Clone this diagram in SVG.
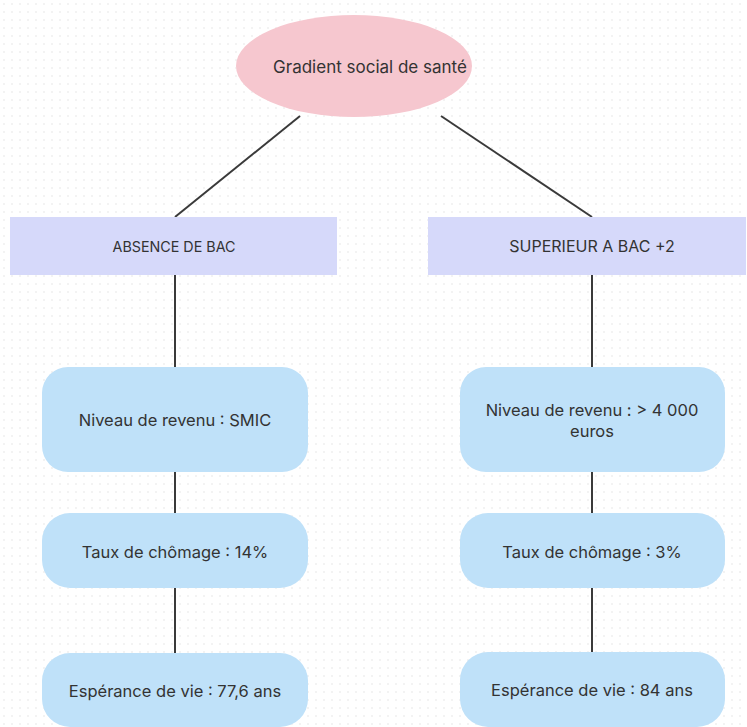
<svg xmlns="http://www.w3.org/2000/svg" width="747" height="727" viewBox="0 0 747 727">
<style>
text{font-family:"Inter","Liberation Sans",sans-serif;fill:#333;text-anchor:middle;dominant-baseline:central}
.t{font-size:16.5px}
.h{font-size:16px}
.box{fill:#BFE1F9}
.cat{fill:#D6D9FA}
.c{stroke:#3a3a3a;stroke-width:2;fill:none}
</style>
<defs>
<pattern id="dots" width="8" height="8" patternUnits="userSpaceOnUse">
<circle cx="4" cy="4" r="0.8" fill="#e3e3e3"/>
</pattern>
</defs>
<rect width="747" height="727" fill="#fff"/>
<rect width="747" height="727" fill="url(#dots)"/>
<g id="connectors">
<line class="c" x1="300" y1="116" x2="175" y2="217"/>
<line class="c" x1="441" y1="116" x2="592" y2="217"/>
<line class="c" x1="175" y1="275" x2="175" y2="367"/>
<line class="c" x1="592" y1="275" x2="592" y2="367"/>
<line class="c" x1="175" y1="472" x2="175" y2="513"/>
<line class="c" x1="592" y1="472" x2="592" y2="513"/>
<line class="c" x1="175" y1="588" x2="175" y2="653"/>
<line class="c" x1="592" y1="588" x2="592" y2="652"/>
</g>
<g id="root">
<ellipse cx="354" cy="66" rx="118" ry="51" fill="#F6C7CF"/>
<text class="t" x="370" y="67" style="font-size:17px">Gradient social de santé</text>
</g>
<g id="absence">
<rect class="cat" x="10" y="217" width="327" height="58"/>
<text class="h" x="174" y="246" style="font-size:14.3px">ABSENCE DE BAC</text>
</g>
<g id="superieur">
<rect class="cat" x="428" y="217" width="318" height="58"/>
<text class="h" x="592" y="246">SUPERIEUR A BAC +2</text>
</g>
<g id="revenu-l">
<rect class="box" x="42" y="367" width="266" height="105" rx="26"/>
<text class="t" x="175" y="420">Niveau de revenu : SMIC</text>
</g>
<g id="revenu-r">
<rect class="box" x="460" y="367" width="265" height="105" rx="26"/>
<text class="t" x="592" y="410">Niveau de revenu : &gt; 4 000</text>
<text class="t" x="592" y="431">euros</text>
</g>
<g id="chomage-l">
<rect class="box" x="42" y="513" width="266" height="75" rx="28"/>
<text class="t" x="175" y="552">Taux de chômage : 14%</text>
</g>
<g id="chomage-r">
<rect class="box" x="460" y="513" width="265" height="75" rx="28"/>
<text class="t" x="592" y="552">Taux de chômage : 3%</text>
</g>
<g id="esperance-l">
<rect class="box" x="42" y="653" width="266" height="74" rx="28"/>
<text class="t" x="175" y="691">Espérance de vie : 77,6 ans</text>
</g>
<g id="esperance-r">
<rect class="box" x="460" y="652" width="265" height="75" rx="28"/>
<text class="t" x="592" y="690">Espérance de vie : 84 ans</text>
</g>
</svg>
